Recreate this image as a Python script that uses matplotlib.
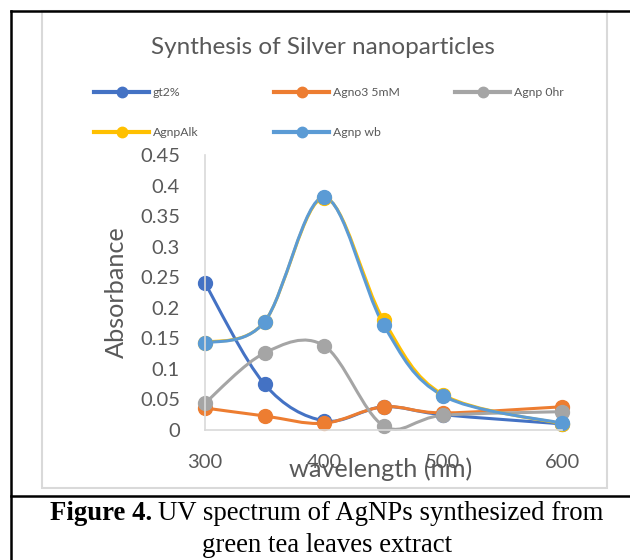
import matplotlib.pyplot as plt
from matplotlib.path import Path
from matplotlib.patches import PathPatch, Rectangle
from matplotlib.lines import Line2D

wavelength = [300, 350, 400, 450, 500, 600]
gt2 = [0.240, 0.075, 0.015, 0.038, 0.025, 0.010]
agno3 = [0.036, 0.023, 0.011, 0.038, 0.028, 0.038]
agnp_0hr = [0.044, 0.126, 0.138, 0.007, 0.024, 0.030]
agnp_alk = [0.143, 0.177, 0.380, 0.180, 0.058, 0.010]
agnp_wb = [0.142, 0.177, 0.381, 0.172, 0.056, 0.011]

labels = ['gt2%', 'Agno3 5mM', 'Agnp 0hr', 'AgnpAlk', 'Agnp wb']
colors = ['#4472C4', '#ED7D31', '#A5A5A5', '#FFC000', '#5B9BD5']
xticks = [300, 400, 500, 600]
yticks = [0, 0.05, 0.1, 0.15, 0.2, 0.25, 0.3, 0.35, 0.4, 0.45]
ytick_labels = ['0', '0.05', '0.1', '0.15', '0.2', '0.25', '0.3', '0.35', '0.4', '0.45']

W, H = 630, 560
plt.rcParams['font.family'] = ['Lato', 'DejaVu Sans']
txt = '#595959'


def smooth_path(x, y):
    # excel style smoothed line, bezier segments through the points
    pts = list(zip(x, y))
    n = len(pts)
    verts = [pts[0]]
    codes = [Path.MOVETO]
    for i in range(n - 1):
        p0 = pts[max(i - 1, 0)]
        p1 = pts[i]
        p2 = pts[i + 1]
        p3 = pts[min(i + 2, n - 1)]
        c1 = (p1[0] + (p2[0] - p0[0]) / 6, p1[1] + (p2[1] - p0[1]) / 6)
        c2 = (p2[0] - (p3[0] - p1[0]) / 6, p2[1] - (p3[1] - p1[1]) / 6)
        verts += [c1, c2, p2]
        codes += [Path.CURVE4] * 3
    return Path(verts, codes)


fig = plt.figure(figsize=(W / 100, H / 100), dpi=100)
ax = fig.add_axes([205 / W, 1 - 430 / H, (562 - 205) / W, (430 - 155) / H])

series = [gt2, agno3, agnp_0hr, agnp_alk, agnp_wb]
for vals, lab, col in zip(series, labels, colors):
    ax.add_patch(PathPatch(smooth_path(wavelength, vals), fill=False,
                           edgecolor=col, lw=2.2, capstyle='round', clip_on=False))
    ax.plot(wavelength, vals, ls='none', marker='o', ms=10, color=col,
            clip_on=False, label=lab)

ax.set_xlim(300, 600)
ax.set_ylim(0, 0.45)
ax.set_xticks(xticks)
ax.set_yticks(yticks)
ax.set_yticklabels(ytick_labels)
for s in ['top', 'right']:
    ax.spines[s].set_visible(False)
for s in ['left', 'bottom']:
    ax.spines[s].set_color('#D9D9D9')
    ax.spines[s].set_linewidth(1.2)
ax.tick_params(length=0, labelsize=14.5, colors=txt)
ax.tick_params(axis='y', pad=18)
ax.tick_params(axis='x', pad=17)

ax.set_xlabel('wavelength (nm)', fontsize=18.2, color=txt)
ax.set_ylabel('Absorbance', fontsize=18.2, color=txt)
ax.xaxis.set_label_coords((381 - 205) / 357, (430 - 469) / 275)
ax.xaxis.label.set_va('center')
ax.yaxis.set_label_coords((116 - 205) / 357, (430 - 292) / 275)
ax.yaxis.label.set_va('center')

fig.text(323 / W, 1 - 47 / H, 'Synthesis of Silver nanoparticles', ha='center',
         va='center', fontsize=17.5, color=txt)

# legend, one entry per slot
slots = [(94, 93), (274, 93), (455, 93), (94, 133), (274, 133)]
for (px, py), lab, col in zip(slots, labels, colors):
    h = Line2D([], [], color=col, lw=3, marker='o', ms=7.5)
    lg = fig.legend([h], [lab], loc='center left', bbox_to_anchor=(px / W, 1 - py / H),
                    frameon=False, fontsize=8.8, handlelength=4.5, handletextpad=0.3,
                    borderpad=0, borderaxespad=0, labelcolor=txt)

# chart border and page frame
fig.add_artist(Rectangle((42 / W, 1 - 488 / H), (607 - 42) / W, (488 - 11) / H,
                         transform=fig.transFigure, fill=False, edgecolor='#D9D9D9', lw=1.5))
fig.add_artist(Line2D([11 / W, 1], [1 - 11 / H] * 2, color='black', lw=1.8))
fig.add_artist(Line2D([11 / W] * 2, [1 - 11 / H, 0], color='black', lw=1.8))
fig.add_artist(Line2D([11 / W, 1], [1 - 496 / H] * 2, color='black', lw=1.8))

serif = ['Liberation Serif', 'DejaVu Serif']
fig.text(50 / W, 1 - 514 / H, 'Figure 4.', ha='left', va='center', fontsize=19.3,
         fontweight='bold', family=serif)
fig.text(158 / W, 1 - 514 / H, 'UV spectrum of AgNPs synthesized from', ha='left',
         va='center', fontsize=19.3, family=serif)
fig.text(327 / W, 1 - 546 / H, 'green tea leaves extract', ha='center', va='center',
         fontsize=19.3, family=serif)

fig.savefig('out.png', dpi=100, facecolor='white')
